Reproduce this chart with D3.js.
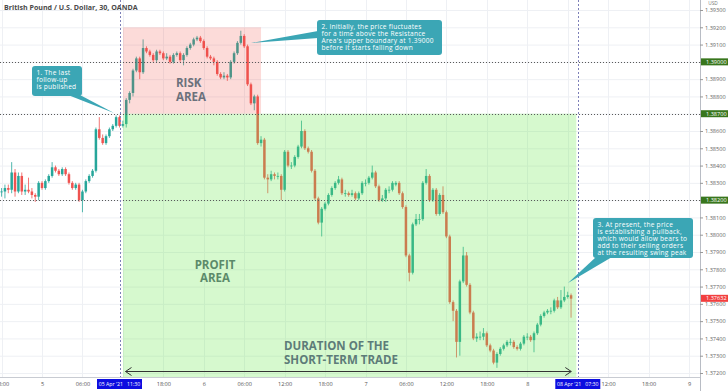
<!DOCTYPE html>
<html><head><meta charset="utf-8">
<script src="https://cdn.jsdelivr.net/npm/d3@7"></script>
<style>
body{margin:0;background:#fff;}
svg{display:block;font-family:"Open Sans","DejaVu Sans",sans-serif;}
</style>
</head><body>
<svg id="chart" width="728" height="391"></svg>
<script>
// ---------------- DATA ----------------
const title = "British Pound / U.S. Dollar, 30, OANDA";
const firstBarTime = new Date(2021, 3, 4, 18, 0); // 30-minute bars
const opens = [
1.3825,1.3825,1.3827,1.3826,1.3836,1.3825,1.3834,1.3825,1.3826,1.3825,
1.3823,1.3822,1.3830,1.3827,1.3831,1.3834,1.3839,1.3837,1.3835,1.3838,
1.3835,1.3830,1.3827,1.3829,1.3820,1.3825,1.3831,1.3834,1.3837,1.3861,
1.3856,1.3853,1.3857,1.3861,1.3863,1.3868,1.3863,1.3864,1.3878,1.3882,
1.3895,1.3902,1.3894,1.3908,1.3906,1.3904,1.3901,1.3906,1.3905,1.3902,
1.3903,1.3900,1.3904,1.3905,1.3901,1.3904,1.3908,1.3910,1.3913,1.3914,
1.3912,1.3908,1.3903,1.3902,1.3900,1.3893,1.3891,1.3892,1.3891,1.3900,
1.3905,1.3911,1.3915,1.3909,1.3887,1.3876,1.3880,1.3853,1.3855,1.3833,
1.3832,1.3835,1.3834,1.3834,1.3826,1.3848,1.3840,1.3840,1.3845,1.3851,
1.3860,1.3850,1.3848,1.3837,1.3821,1.3807,1.3815,1.3818,1.3823,1.3827,
1.3830,1.3832,1.3824,1.3824,1.3823,1.3824,1.3821,1.3824,1.3830,1.3830,
1.3833,1.3836,1.3828,1.3820,1.3821,1.3826,1.3826,1.3829,1.3830,1.3824,
1.3816,1.3788,1.3778,1.3806,1.3809,1.3809,1.3830,1.3834,1.3820,1.3826,
1.3812,1.3823,1.3813,1.3799,1.3761,1.3756,1.3738,1.3773,1.3788,1.3771,
1.3755,1.3740,1.3741,1.3741,1.3743,1.3736,1.3733,1.3726,1.3731,1.3734,
1.3736,1.3738,1.3738,1.3735,1.3734,1.3737,1.3741,1.3741,1.3739,1.3743,
1.3748,1.3753,1.3755,1.3756,1.3756,1.3762,1.3758,1.3762,1.3764,1.3765];
const highs = [
1.3827,1.3829,1.3829,1.3842,1.3838,1.3836,1.3836,1.3829,1.3833,1.3827,
1.3824,1.3831,1.3831,1.3832,1.3835,1.3842,1.3840,1.3838,1.3839,1.3839,
1.3836,1.3831,1.3830,1.3830,1.3826,1.3832,1.3835,1.3838,1.3862,1.3868,
1.3858,1.3858,1.3862,1.3864,1.3869,1.3869,1.3866,1.3879,1.3883,1.3896,
1.3903,1.3903,1.3913,1.3909,1.3907,1.3905,1.3907,1.3907,1.3906,1.3905,
1.3904,1.3905,1.3906,1.3906,1.3905,1.3909,1.3911,1.3914,1.3915,1.3915,
1.3913,1.3909,1.3904,1.3903,1.3901,1.3894,1.3894,1.3893,1.3901,1.3906,
1.3912,1.3918,1.3916,1.3910,1.3888,1.3881,1.3881,1.3857,1.3856,1.3835,
1.3837,1.3836,1.3836,1.3835,1.3849,1.3849,1.3842,1.3846,1.3852,1.3866,
1.3861,1.3851,1.3849,1.3838,1.3822,1.3816,1.3819,1.3824,1.3828,1.3831,
1.3834,1.3833,1.3826,1.3825,1.3826,1.3825,1.3825,1.3831,1.3832,1.3834,
1.3840,1.3837,1.3829,1.3823,1.3827,1.3828,1.3831,1.3831,1.3831,1.3825,
1.3817,1.3789,1.3807,1.3812,1.3812,1.3831,1.3838,1.3835,1.3827,1.3827,
1.3824,1.3828,1.3814,1.3800,1.3762,1.3757,1.3774,1.3793,1.3790,1.3772,
1.3756,1.3743,1.3744,1.3746,1.3744,1.3737,1.3734,1.3732,1.3735,1.3737,
1.3739,1.3740,1.3739,1.3736,1.3738,1.3742,1.3743,1.3742,1.3744,1.3749,
1.3754,1.3756,1.3757,1.3758,1.3763,1.3764,1.3768,1.3770,1.3767,1.3766];
const lows = [
1.3822,1.3821,1.3824,1.3824,1.3822,1.3824,1.3823,1.3823,1.3824,1.3821,
1.3819,1.3820,1.3826,1.3826,1.3830,1.3833,1.3836,1.3834,1.3834,1.3834,
1.3829,1.3826,1.3826,1.3819,1.3813,1.3824,1.3830,1.3833,1.3836,1.3855,
1.3852,1.3852,1.3856,1.3860,1.3862,1.3862,1.3862,1.3862,1.3876,1.3880,
1.3894,1.3890,1.3893,1.3905,1.3903,1.3900,1.3900,1.3904,1.3901,1.3901,
1.3899,1.3899,1.3903,1.3900,1.3898,1.3903,1.3907,1.3909,1.3912,1.3911,
1.3907,1.3902,1.3901,1.3898,1.3892,1.3890,1.3890,1.3889,1.3890,1.3899,
1.3904,1.3910,1.3908,1.3886,1.3875,1.3872,1.3852,1.3851,1.3832,1.3824,
1.3831,1.3832,1.3832,1.3820,1.3825,1.3839,1.3838,1.3839,1.3844,1.3850,
1.3849,1.3847,1.3836,1.3820,1.3806,1.3799,1.3814,1.3817,1.3822,1.3826,
1.3829,1.3823,1.3822,1.3822,1.3822,1.3820,1.3820,1.3823,1.3828,1.3829,
1.3832,1.3827,1.3819,1.3819,1.3819,1.3824,1.3825,1.3828,1.3823,1.3815,
1.3787,1.3773,1.3777,1.3805,1.3806,1.3808,1.3829,1.3819,1.3819,1.3811,
1.3811,1.3812,1.3798,1.3760,1.3750,1.3729,1.3730,1.3772,1.3770,1.3754,
1.3739,1.3738,1.3739,1.3739,1.3735,1.3732,1.3725,1.3723,1.3730,1.3733,
1.3735,1.3736,1.3734,1.3733,1.3733,1.3736,1.3739,1.3738,1.3732,1.3742,
1.3747,1.3752,1.3754,1.3754,1.3755,1.3757,1.3757,1.3761,1.3763,1.3752];
const closes = [
1.3825,1.3827,1.3826,1.3836,1.3825,1.3834,1.3825,1.3826,1.3825,1.3823,
1.3822,1.3830,1.3827,1.3831,1.3834,1.3839,1.3837,1.3835,1.3838,1.3835,
1.3830,1.3827,1.3829,1.3820,1.3825,1.3831,1.3834,1.3837,1.3861,1.3856,
1.3853,1.3857,1.3861,1.3863,1.3868,1.3863,1.3864,1.3878,1.3882,1.3895,
1.3902,1.3894,1.3908,1.3906,1.3904,1.3901,1.3906,1.3905,1.3902,1.3903,
1.3900,1.3904,1.3905,1.3901,1.3904,1.3908,1.3910,1.3913,1.3914,1.3912,
1.3908,1.3903,1.3902,1.3900,1.3893,1.3891,1.3892,1.3891,1.3900,1.3905,
1.3911,1.3915,1.3909,1.3887,1.3876,1.3880,1.3853,1.3855,1.3833,1.3832,
1.3835,1.3834,1.3834,1.3826,1.3848,1.3840,1.3840,1.3845,1.3851,1.3860,
1.3850,1.3848,1.3837,1.3821,1.3807,1.3815,1.3818,1.3823,1.3827,1.3830,
1.3832,1.3824,1.3824,1.3823,1.3824,1.3821,1.3824,1.3830,1.3830,1.3833,
1.3836,1.3828,1.3820,1.3821,1.3826,1.3826,1.3830,1.3830,1.3824,1.3816,
1.3788,1.3778,1.3806,1.3809,1.3809,1.3830,1.3834,1.3820,1.3826,1.3812,
1.3823,1.3813,1.3799,1.3761,1.3756,1.3738,1.3773,1.3788,1.3771,1.3755,
1.3740,1.3741,1.3741,1.3743,1.3736,1.3733,1.3726,1.3731,1.3734,1.3736,
1.3738,1.3738,1.3735,1.3734,1.3737,1.3741,1.3741,1.3739,1.3743,1.3748,
1.3753,1.3755,1.3756,1.3756,1.3762,1.3758,1.3762,1.3764,1.3765,1.3763];

const priceTicks = [1.393,1.392,1.391,1.390,1.389,1.388,1.387,1.386,1.385,1.384,1.383,
                    1.382,1.381,1.380,1.379,1.378,1.377,1.376,1.375,1.374,1.373,1.372];
const keyLevels = [1.39000, 1.38700, 1.38200];
const lastPrice = 1.37632;
const tradeStart = new Date(2021, 3, 5, 11, 30);
const tradeEnd = new Date(2021, 3, 8, 7, 30);
const tradeStartLabel = "05 Apr '21   11:30";
const tradeEndLabel = "08 Apr '21   07:30";
const riskTop = 1.3920;
const note1 = ["1. The last", "follow-up", "is published"];
const note2 = ["2. Initially, the price fluctuates", "for a time above the Resistance",
               "Area's upper boundary at 1.39000", "before it starts falling down"];
const note3 = ["3. At present, the price", "is establishing a pullback,",
               "which would allow bears to", "add to their selling orders", "at the resulting swing peak"];

// ---------------- CHART ----------------
const svg = d3.select("#chart");
const plotR = 700, plotB = 377;
const x = d3.scaleTime()
  .domain([new Date(2021, 3, 5, 0, 0), new Date(2021, 3, 9, 0, 0)])
  .range([42, 689]);
const y = d3.scaleLinear().domain([1.372, 1.393]).range([373, 10]);
const times = opens.map((_, i) => d3.timeMinute.offset(firstBarTime, 30 * i));
const bars = opens.map((o, i) => ({t: times[i], o, h: highs[i], l: lows[i], c: closes[i]}));
const timeTicks = d3.timeHour.every(6).range(new Date(2021, 3, 4, 18), new Date(2021, 3, 9, 1));

svg.append("defs").append("clipPath").attr("id", "plot")
  .append("rect").attr("x", 0).attr("y", 0).attr("width", plotR).attr("height", plotB);

// grid
const grid = svg.append("g").attr("clip-path", "url(#plot)");
grid.selectAll(".hg").data(priceTicks).join("line")
  .attr("x1", 0).attr("x2", plotR).attr("y1", d => y(d) + 0.5).attr("y2", d => y(d) + 0.5)
  .attr("stroke", "#eef0f4").attr("stroke-width", 1);
grid.selectAll(".vg").data(timeTicks).join("line")
  .attr("y1", 0).attr("y2", plotB).attr("x1", d => Math.round(x(d)) + 0.5).attr("x2", d => Math.round(x(d)) + 0.5)
  .attr("stroke", "#eef0f4").attr("stroke-width", 1);

// candles
const up = "#26a69a", down = "#ef5350";
const cg = svg.append("g").attr("clip-path", "url(#plot)");
cg.selectAll(".wick").data(bars).join("line")
  .attr("x1", d => x(d.t)).attr("x2", d => x(d.t))
  .attr("y1", d => y(d.h)).attr("y2", d => y(d.l))
  .attr("stroke", d => d.c >= d.o ? up : down).attr("stroke-width", 0.8);
cg.selectAll(".body").data(bars).join("rect")
  .attr("x", d => x(d.t) - 1.25).attr("width", 2.5)
  .attr("y", d => y(Math.max(d.o, d.c)))
  .attr("height", d => Math.max(0.8, Math.abs(y(d.o) - y(d.c))))
  .attr("fill", d => d.c >= d.o ? up : down);

// zones (semi-transparent overlays)
const zoneX0 = x(tradeStart) + 3.5;
svg.append("rect").attr("x", zoneX0).attr("y", y(riskTop))
  .attr("width", x(d3.timeMinute.offset(tradeStart, 30 * 42)) - zoneX0)
  .attr("height", y(keyLevels[1]) - y(riskTop))
  .attr("fill", "rgb(240,75,65)").attr("fill-opacity", 0.2);
svg.append("rect").attr("x", zoneX0).attr("y", y(keyLevels[1]))
  .attr("width", x(tradeEnd) - 1.5 - zoneX0)
  .attr("height", plotB - y(keyLevels[1]))
  .attr("fill", "rgb(106,235,78)").attr("fill-opacity", 0.28);

// key level dotted lines
svg.selectAll(".lvl").data(keyLevels).join("line")
  .attr("x1", 0).attr("x2", plotR).attr("y1", d => Math.round(y(d)) + 0.5).attr("y2", d => Math.round(y(d)) + 0.5)
  .attr("stroke", "#5a5a5a").attr("stroke-width", 1).attr("stroke-dasharray", "1,2");
// vertical dashed lines
svg.selectAll(".vl").data([tradeStart, tradeEnd]).join("line")
  .attr("x1", d => Math.round(x(d)) + 0.5).attr("x2", d => Math.round(x(d)) + 0.5)
  .attr("y1", 0).attr("y2", plotB)
  .attr("stroke", "#7d80b8").attr("stroke-width", 1).attr("stroke-dasharray", "2,2");

// zone labels
function multi(lines, px, py, lh, opts) {
  const t = svg.append("text").attr("x", px).attr("y", py)
    .attr("font-size", opts.size).attr("font-weight", opts.weight || "normal")
    .attr("fill", opts.fill).attr("text-anchor", opts.anchor || "start");
  if (opts.spacing) t.attr("letter-spacing", opts.spacing);
  lines.forEach((l, i) => t.append("tspan").attr("x", px).attr("y", py + i * lh).text(l));
  return t;
}
multi(["RISK", "AREA"], 176, 87, 13.5, {size: 11.5, weight: "bold", fill: "#6b717c"});
multi(["PROFIT", "AREA"], 215, 269, 13, {size: 11.5, weight: "bold", fill: "#5c8a6a", anchor: "middle"});
multi(["DURATION OF THE", "SHORT-TERM TRADE"], 284, 350, 13.5, {size: 11.5, weight: "bold", fill: "#5d7c79"});

// duration arrow
const ay = 371.5;
svg.append("line").attr("x1", x(tradeStart) + 6).attr("x2", x(tradeEnd) - 6.5)
  .attr("y1", ay).attr("y2", ay).attr("stroke", "#333").attr("stroke-width", 1);
svg.append("path").attr("d", `M${x(tradeStart) + 12},${ay - 4} L${x(tradeStart) + 6},${ay} L${x(tradeStart) + 12},${ay + 4}`)
  .attr("fill", "none").attr("stroke", "#333").attr("stroke-width", 1);
svg.append("path").attr("d", `M${x(tradeEnd) - 12.5},${ay - 4} L${x(tradeEnd) - 6.5},${ay} L${x(tradeEnd) - 12.5},${ay + 4}`)
  .attr("fill", "none").attr("stroke", "#333").attr("stroke-width", 1);

// callouts
const teal = "#3ba6b5";
function callout(lines, bx, by, bw, bh, tri) {
  svg.append("path").attr("d", `M${tri[0][0]},${tri[0][1]} L${tri[1][0]},${tri[1][1]} L${tri[2][0]},${tri[2][1]} Z`).attr("fill", teal);
  svg.append("rect").attr("x", bx).attr("y", by).attr("width", bw).attr("height", bh).attr("rx", 3).attr("fill", teal);
  multi(lines, bx + 4.5, by + 8.5, 7, {size: 6.6, fill: "#fff", spacing: 0.25});
}
callout(note1, 32, 66, 50, 30, [[68, 95], [80, 95], [114, 113]]);
callout(note2, 317, 20, 125, 35, [[318, 31], [318, 38], [251, 43]]);
callout(note3, 593, 218, 100, 40, [[596, 257], [612, 257], [568, 283]]);

// title
svg.append("text").attr("x", 4).attr("y", 9.5).attr("font-size", 7.1).attr("font-weight", "bold")
  .attr("fill", "#4a4a4a").text(title);

// right axis
svg.append("rect").attr("x", plotR).attr("y", 0).attr("width", 28).attr("height", 391).attr("fill", "#fff");
svg.append("line").attr("x1", plotR + 0.5).attr("x2", plotR + 0.5).attr("y1", 0).attr("y2", 391)
  .attr("stroke", "#b8bcc4").attr("stroke-width", 1);
const yAxis = d3.axisRight(y).tickValues(priceTicks).tickFormat(d3.format(".5f")).tickSize(3).tickPadding(2);
const ya = svg.append("g").attr("transform", `translate(${plotR},0)`).call(yAxis);
ya.select(".domain").remove();
ya.selectAll("line").attr("stroke", "#999");
ya.selectAll("text").attr("font-size", 5.6).attr("fill", "#666").attr("font-family", "Open Sans, sans-serif");
svg.append("text").attr("x", 713).attr("y", 5.2).attr("text-anchor", "middle").attr("font-size", 4.8)
  .attr("fill", "#777").text("USD");

// price labels on axis
const pl = svg.selectAll(".pl").data(keyLevels.map(v => ({v, c: "#38761d"})).concat([{v: lastPrice, c: "#f23f3f"}]))
  .join("g").attr("transform", d => `translate(${plotR + 1},${y(d.v)})`);
pl.append("rect").attr("x", 0).attr("y", -3.5).attr("width", 27).attr("height", 7).attr("fill", d => d.c);
pl.append("text").attr("x", 5).attr("y", 2).attr("font-size", 5.6).attr("fill", "#fff").text(d => d3.format(".5f")(d.v));

// bottom axis
svg.append("line").attr("x1", 0).attr("x2", plotR).attr("y1", plotB + 0.5).attr("y2", plotB + 0.5)
  .attr("stroke", "#c8cbd2").attr("stroke-width", 1);
const fmt = d => d.getHours() === 0 ? d3.timeFormat("%-d")(d) : d3.timeFormat("%H:%M")(d);
// labels hidden behind the highlighted time boxes are not drawn
const shownTicks = timeTicks.filter(t => Math.abs(x(t) - x(tradeStart)) > 12 && Math.abs(x(t) - x(tradeEnd)) > 12);
const xAxis = d3.axisBottom(x).tickValues(shownTicks).tickFormat(fmt).tickSize(0).tickPadding(5);
const xa = svg.append("g").attr("transform", `translate(0,${plotB})`).call(xAxis);
xa.select(".domain").remove();
xa.selectAll("text").attr("font-size", 5.6).attr("fill", "#555").attr("font-family", "Open Sans, sans-serif");

// highlighted time labels
[[tradeStart, tradeStartLabel], [tradeEnd, tradeEndLabel]].forEach(([t, lab]) => {
  const cx = x(t);
  svg.append("rect").attr("x", cx - 22.5).attr("y", 379).attr("width", 45).attr("height", 10).attr("fill", "#0d0de0");
  svg.append("text").attr("x", cx).attr("y", 386.2).attr("text-anchor", "middle").attr("font-size", 5.2)
    .attr("fill", "#fff").style("white-space", "pre").text(lab);
});
</script>
</body></html>
